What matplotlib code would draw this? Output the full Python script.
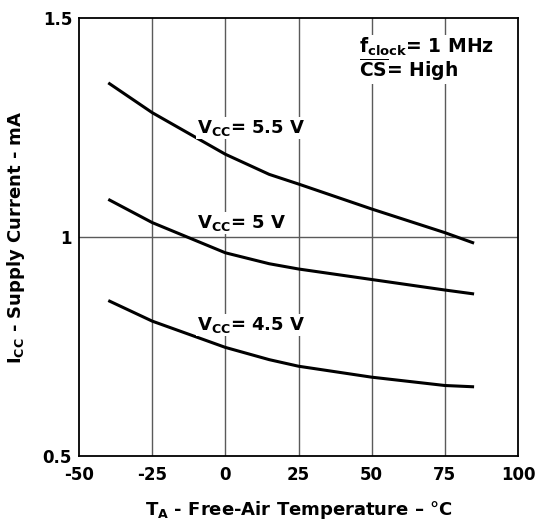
import matplotlib
matplotlib.use("Agg")
import matplotlib.pyplot as plt

plt.rcParams['font.family'] = ['DejaVu Sans']
plt.rcParams['font.weight'] = 'bold'
plt.rcParams['mathtext.fontset'] = 'custom'
plt.rcParams['mathtext.rm'] = 'DejaVu Sans:bold'
plt.rcParams['mathtext.bf'] = 'DejaVu Sans:bold'
plt.rcParams['mathtext.it'] = 'DejaVu Sans:bold'

# Supply current vs. free-air temperature
temps = [-40, -25, 0, 15, 25, 50, 75, 85]
icc_55 = [1.352, 1.284, 1.189, 1.143, 1.121, 1.064, 1.010, 0.986]
icc_50 = [1.086, 1.033, 0.964, 0.939, 0.927, 0.903, 0.879, 0.870]
icc_45 = [0.855, 0.808, 0.748, 0.720, 0.705, 0.680, 0.661, 0.658]
series_labels = [r'$\mathbf{V}_{\mathbf{CC}}$= 5.5 V',
                 r'$\mathbf{V}_{\mathbf{CC}}$= 5 V',
                 r'$\mathbf{V}_{\mathbf{CC}}$= 4.5 V']

x_ticks = [-50, -25, 0, 25, 50, 75, 100]
x_ticklabels = ['-50', '-25', '0', '25', '50', '75', '100']
y_ticks = [0.5, 1, 1.5]
y_ticklabels = ['0.5', '1', '1.5']

fig = plt.figure(figsize=(5.42, 5.27), dpi=100)
ax = fig.add_axes([0.1458, 0.1347, 0.8099, 0.8311])

ax.set_xlim(-50, 100)
ax.set_ylim(0.5, 1.5)

# grid
for xv in x_ticks[1:-1]:
    ax.axvline(xv, color='#5a5a5a', lw=1.0, zorder=1)
ax.axhline(1.0, color='#5a5a5a', lw=1.0, zorder=1)

for vals in (icc_55, icc_50, icc_45):
    ax.plot(temps, vals, color='black', lw=2.2, zorder=3, solid_capstyle='butt')

label_pos = [(-9.7, 1.249), (-9.7, 1.032), (-9.7, 0.799)]
for (tx, ty), lab in zip(label_pos, series_labels):
    ax.text(tx, ty, lab, fontsize=13, fontweight='bold', ha='left', va='center',
            zorder=4, bbox=dict(facecolor='white', edgecolor='none', pad=0.5))

ax.text(45.7, 1.434, r'$\mathbf{f}_{\mathbf{clock}}$= 1 MHz', fontsize=13.5,
        fontweight='bold', ha='left', va='center', zorder=4,
        bbox=dict(facecolor='white', edgecolor='none', pad=0.5))
ax.text(45.7, 1.381, r'$\overline{\mathbf{CS}}$= High', fontsize=13.5,
        fontweight='bold', ha='left', va='center', zorder=4,
        bbox=dict(facecolor='white', edgecolor='none', pad=0.5))

ax.set_xticks(x_ticks)
ax.set_xticklabels(x_ticklabels, fontsize=12, fontweight='bold')
ax.set_yticks(y_ticks)
ax.set_yticklabels(y_ticklabels, fontsize=12, fontweight='bold')
ax.tick_params(axis='x', length=0, pad=7)
ax.tick_params(axis='y', length=0, pad=5)

for sp in ax.spines.values():
    sp.set_linewidth(1.3)
    sp.set_color('black')
    sp.set_zorder(5)

ax.set_xlabel(r'$\mathbf{T}_{\mathbf{A}}$ - Free-Air Temperature – °C',
              fontsize=13, fontweight='bold', labelpad=11)
ax.set_ylabel(r'$\mathbf{I}_{\mathbf{CC}}$ - Supply Current - mA',
              fontsize=13, fontweight='bold', labelpad=11)

fig.savefig('out.png', dpi=100, facecolor='white')
